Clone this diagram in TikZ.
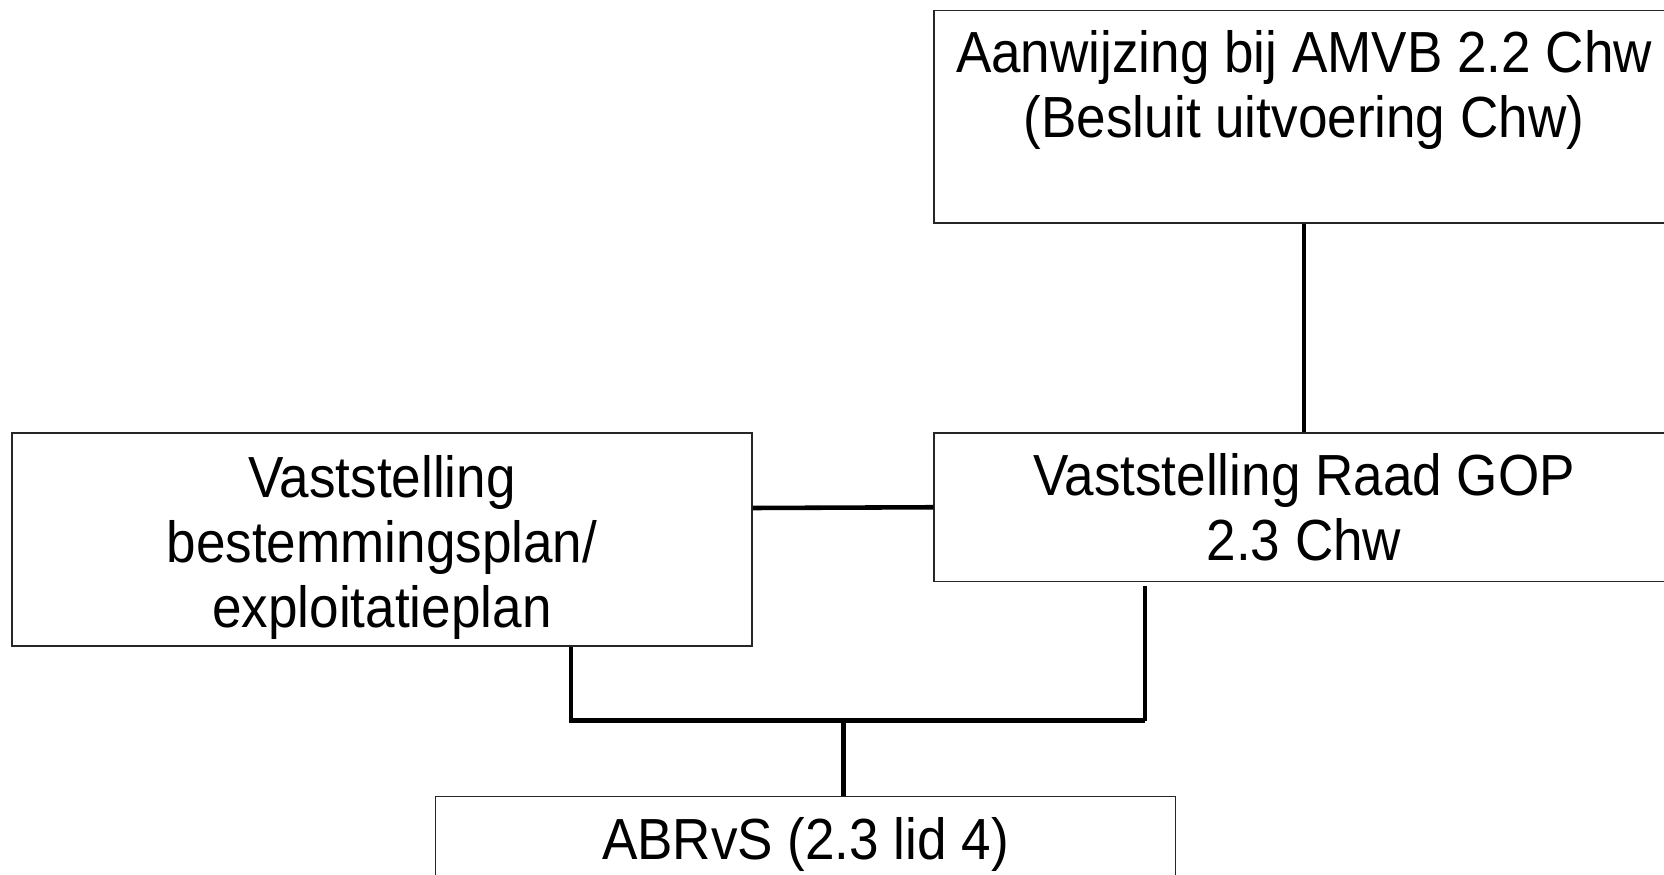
\documentclass[tikz,border=0pt]{standalone}
\usepackage{fontspec}
\newfontfamily\diafont[FakeStretch=0.915]{Liberation Sans}
\usepackage{tikz}

\tikzset{
  stap/.style={draw=black!85, line width=0.85pt, minimum width=14.8cm,
    align=center, inner sep=0pt, font=\diafont\fontsize{33}{37}\selectfont},
  lijn/.style={line width=2.6pt}
}

\begin{document}
\begin{tikzpicture}
     \useasboundingbox (0,0) rectangle (33.28,-17.5);
     \clip (0,0) rectangle (33.28,-17.5);
     \node[stap, minimum height=4.25cm] (aanwijzing) at (26.08,-2.336)
        {Aanwijzing bij AMVB 2.2 Chw\\(Besluit uitvoering Chw)\\ \mbox{}};
     \node[stap, minimum height=2.97cm] (raad) at (26.08,-10.145)
        {Vaststelling Raad GOP\\2.3 Chw};
     \node[stap, minimum height=4.26cm] (bestemming) at (7.64,-10.79)
        {\rule{0pt}{33pt}Vaststelling\\bestemmingsplan/\\exploitatieplan};
     \node[stap, minimum height=1.9cm, anchor=north] (abrvs) at (16.11,-15.92)
        {ABRvS (2.3 lid 4)};
     \coordinate (links) at (11.42,-14.41);
     \coordinate (rechts) at (22.9,-14.41);
     \coordinate (midden) at (16.87,-14.41);
      \draw[lijn] (aanwijzing) -- (raad);
      \draw[lijn] (bestemming.east |- 0,-10.16) -- (raad.west);
      \draw[lijn] (bestemming.south -| links) -- (links) -- (rechts);
      \draw[lijn, shorten >=0.08cm] (rechts) -- (raad.south -| rechts);
      \draw[lijn] (midden) -- (abrvs.north -| midden);
\end{tikzpicture}
\end{document}
